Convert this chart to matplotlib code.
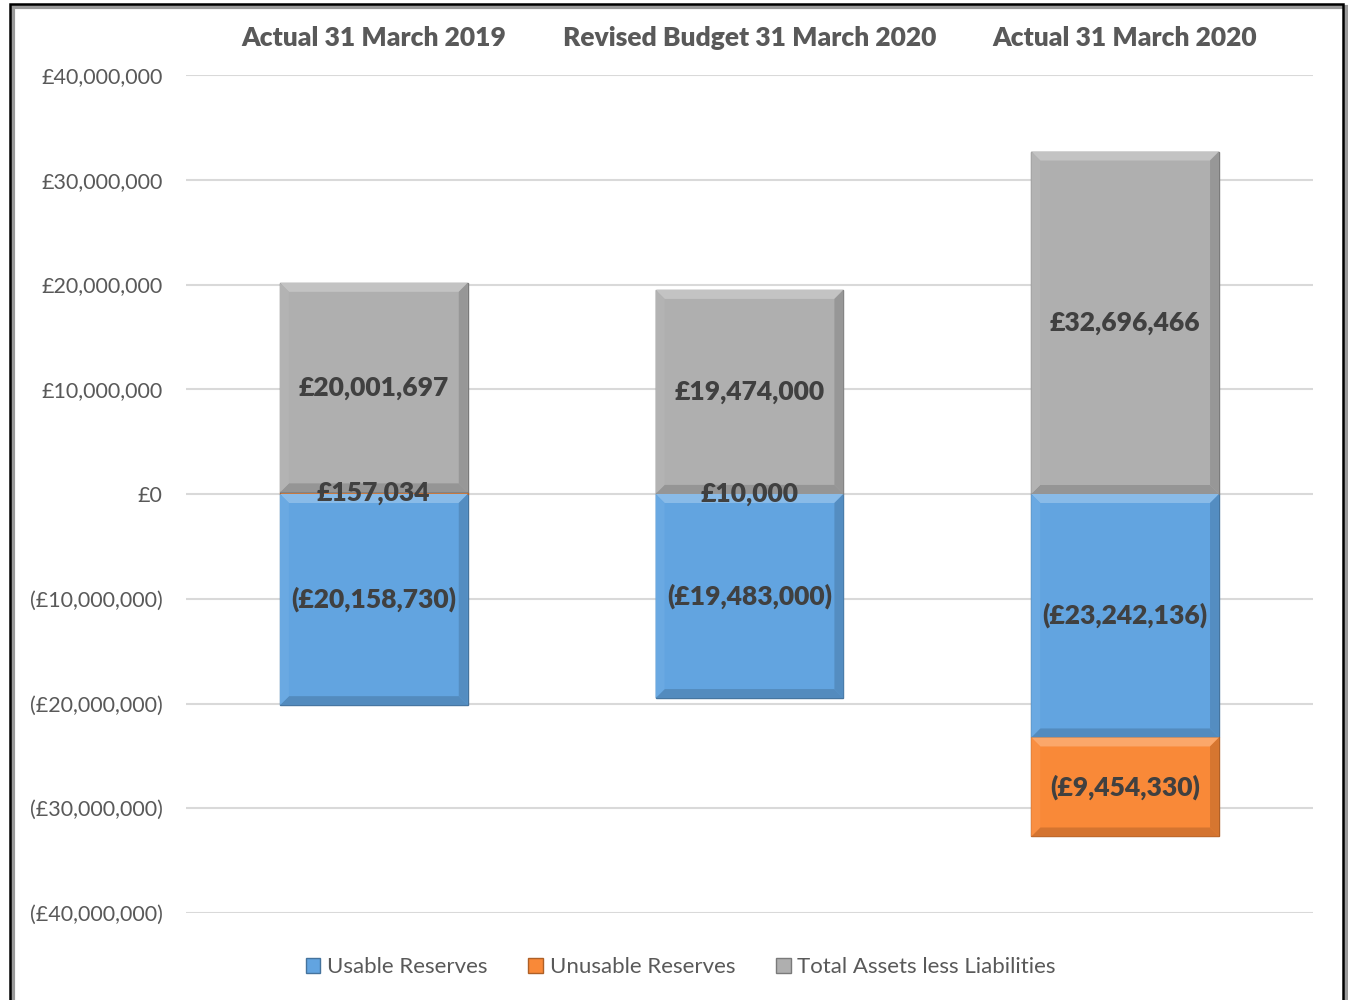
import numpy as np
import matplotlib.pyplot as plt
from matplotlib.patches import Polygon, Rectangle
from matplotlib.colors import to_rgb

plt.rcParams['font.family'] = ['Lato', 'DejaVu Sans']

# reserves by period
periods = ['Actual 31 March 2019', 'Revised Budget 31 March 2020', 'Actual 31 March 2020']
usable = [-20158730, -19483000, -23242136]
unusable = [157034, 10000, -9454330]
total_assets = [20001697, 19474000, 32696466]

series_names = ['Usable Reserves', 'Unusable Reserves', 'Total Assets less Liabilities']
series_values = [usable, unusable, total_assets]
colors = ['#62a4e0', '#f98938', '#afafaf']

yticks = [40e6, 30e6, 20e6, 10e6, 0, -10e6, -20e6, -30e6, -40e6]


def money(v):
    if v < 0:
        return '(£{:,.0f})'.format(-v)
    return '£{:,.0f}'.format(v)


def shade(c, f):
    r, g, b = to_rgb(c)
    if f > 0:
        return (r + (1 - r) * f, g + (1 - g) * f, b + (1 - b) * f)
    return (r * (1 + f), g * (1 + f), b * (1 + f))


fig = plt.figure(figsize=(13.48, 10), dpi=100)
ax = fig.add_axes([0.138, 0.087, 0.836, 0.838])

x = np.arange(len(periods))
width = 0.5
pos_base = np.zeros(len(periods))
neg_base = np.zeros(len(periods))
bars = []
for name, vals, col in zip(series_names, series_values, colors):
    vals = np.array(vals, dtype=float)
    bottoms = np.where(vals >= 0, pos_base, neg_base)
    rects = ax.bar(x, vals, width, bottom=bottoms, color=col, label=name,
                   edgecolor=shade(col, -0.3), linewidth=1.0, zorder=3)
    bars.append((rects, vals, bottoms, col))
    pos_base += np.where(vals >= 0, vals, 0)
    neg_base += np.where(vals < 0, vals, 0)

ax.set_xlim(-0.5, len(periods) - 0.5)
ax.set_ylim(-40e6, 40e6)
ax.set_yticks(yticks)
ax.set_yticklabels([money(v) for v in yticks])
ax.tick_params(axis='y', length=0, pad=17, labelsize=15.5, labelcolor='#595959')
ax.xaxis.tick_top()
ax.set_xticks(x)
ax.set_xticklabels(periods, fontsize=19, fontweight='heavy', color='#595959')
ax.tick_params(axis='x', length=0, pad=18)
for s in ax.spines.values():
    s.set_visible(False)
ax.grid(axis='y', color='#d9d9d9', linewidth=1.5, zorder=0)
ax.set_axisbelow(True)

# bevelled edges on each bar segment
to_px = ax.transData
to_data = ax.transData.inverted()
for rects, vals, bottoms, col in bars:
    for r in rects:
        (x0, y0), (x1, y1) = to_px.transform([(r.get_x(), r.get_y()),
                                              (r.get_x() + r.get_width(), r.get_y() + r.get_height())])
        ylo, yhi = min(y0, y1), max(y0, y1)
        if yhi - ylo < 6:
            continue
        d = min(9, (yhi - ylo) / 2)
        faces = [
            ([(x0, yhi), (x1, yhi), (x1 - d, yhi - d), (x0 + d, yhi - d)], 0.25),
            ([(x0, ylo), (x1, ylo), (x1 - d, ylo + d), (x0 + d, ylo + d)], -0.15),
            ([(x0, ylo), (x0, yhi), (x0 + d, yhi - d), (x0 + d, ylo + d)], 0.05),
            ([(x1, ylo), (x1, yhi), (x1 - d, yhi - d), (x1 - d, ylo + d)], -0.14),
        ]
        for pts, f in faces:
            ax.add_patch(Polygon(to_data.transform(pts), closed=True,
                                 facecolor=shade(col, f), edgecolor='none', zorder=3.5))

# value labels
for rects, vals, bottoms, col in bars:
    for xi, v, b in zip(x, vals, bottoms):
        ax.text(xi, b + v / 2, money(v), ha='center', va='center',
                fontsize=19, fontweight='heavy', color='#404040', zorder=5)

leg = ax.legend(loc='center', bbox_to_anchor=(0.439, -0.065), ncol=3, frameon=False,
                fontsize=16, handlelength=0.65, handleheight=0.65, handletextpad=0.3,
                columnspacing=1.85, labelcolor='#595959')

# chart frame with drop shadow
fig.patches.append(Rectangle((13 / 1348, -0.02), 1333 / 1348, 1.013, transform=fig.transFigure,
                             facecolor='none', edgecolor='#9a9a9a', linewidth=3, zorder=0))
fig.patches.append(Rectangle((10 / 1348, -0.02), 1333 / 1348, 1.016, transform=fig.transFigure,
                             facecolor='none', edgecolor='black', linewidth=1.8, zorder=1))

fig.savefig('out.png', dpi=100)
